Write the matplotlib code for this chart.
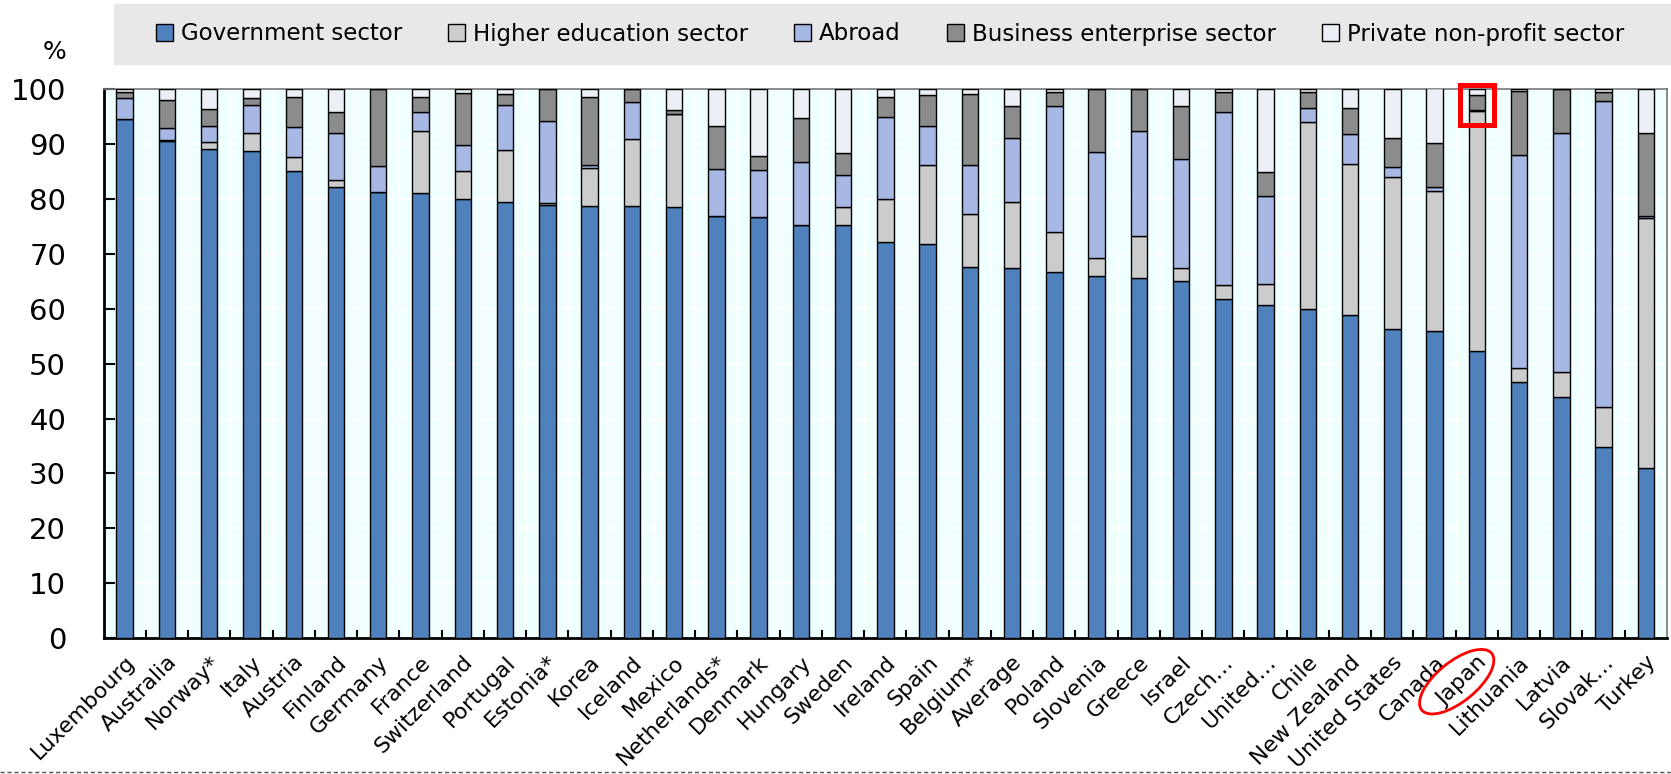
import numpy as np
import matplotlib
matplotlib.use("Agg")
import matplotlib.pyplot as plt
from matplotlib.patches import Rectangle, Ellipse, Patch
from matplotlib.lines import Line2D

countries = ["Luxembourg", "Australia", "Norway*", "Italy", "Austria", "Finland",
             "Germany", "France", "Switzerland", "Portugal", "Estonia*", "Korea",
             "Iceland", "Mexico", "Netherlands*", "Denmark", "Hungary", "Sweden",
             "Ireland", "Spain", "Belgium*", "Average", "Poland", "Slovenia",
             "Greece", "Israel", "Czech\u2026", "United\u2026", "Chile", "New Zealand",
             "United States", "Canada", "Japan", "Lithuania", "Latvia",
             "Slovak\u2026", "Turkey"]

government = [94.6, 90.6, 89.1, 88.7, 85.2, 82.2, 81.3, 81.2, 80.1, 79.5, 78.9, 78.8,
              78.8, 78.5, 77.0, 76.8, 75.2, 75.2, 72.1, 71.9, 67.7, 67.5, 66.8, 66.0,
              65.6, 65.1, 61.8, 60.7, 60.0, 58.9, 56.4, 56.0, 52.4, 46.6, 43.9, 34.8, 31.0]
higher_edu = [0.0, 0.2, 1.3, 3.3, 2.5, 1.3, 0.0, 11.2, 5.1, 9.5, 0.4, 6.8,
              12.1, 17.0, 0.0, 0.0, 0.0, 3.3, 7.9, 14.3, 9.6, 12.0, 7.2, 3.2,
              7.7, 2.3, 2.5, 3.9, 34.0, 27.5, 27.7, 25.4, 43.7, 2.7, 4.6, 7.3, 45.6]
abroad = [3.9, 2.1, 3.0, 5.2, 5.5, 8.5, 4.8, 3.4, 4.6, 8.2, 15.0, 0.7,
          6.8, 0.0, 8.4, 8.5, 11.5, 5.9, 14.9, 7.1, 8.9, 11.7, 23.0, 19.3,
          19.1, 19.9, 31.5, 16.0, 2.6, 5.5, 1.8, 0.9, 0.1, 38.8, 43.6, 55.8, 0.4]
business = [1.1, 5.2, 3.1, 1.3, 5.4, 3.8, 13.9, 2.9, 9.6, 1.9, 5.7, 12.4,
            2.3, 0.8, 7.9, 2.6, 8.0, 4.0, 3.8, 5.7, 13.0, 5.8, 2.6, 11.5,
            7.6, 9.6, 3.7, 4.4, 2.9, 4.7, 5.3, 8.0, 2.7, 11.6, 7.9, 1.6, 15.1]
private_np = [0.4, 1.9, 3.5, 1.5, 1.4, 4.2, 0.0, 1.3, 0.6, 0.9, 0.0, 1.3,
              0.0, 3.7, 6.7, 12.1, 5.3, 11.6, 1.3, 1.0, 0.8, 3.0, 0.4, 0.0,
              0.0, 3.1, 0.5, 15.0, 0.5, 3.4, 8.8, 9.9, 1.2, 0.3, 0.0, 0.5, 7.9]

series = [("Government sector", government, "#4F81BD"),
          ("Higher education sector", higher_edu, "#CCCCCC"),
          ("Abroad", abroad, "#A6B8E3"),
          ("Business enterprise sector", business, "#8C8C8C"),
          ("Private non-profit sector", private_np, "#EDEFF7")]

W, H = 1671, 774
fig = plt.figure(figsize=(W / 100, H / 100), dpi=100)
ax = fig.add_axes([103.6 / W, 1 - 638 / H, (1667 - 103.6) / W, (638 - 89.4) / H])
ax.set_facecolor("#F0FFFF")

x = np.arange(len(countries))
bottom = np.zeros(len(countries))
for name, vals, col in series:
    vals = np.array(vals)
    ax.bar(x, vals, width=0.39, bottom=bottom, color=col, edgecolor="black",
           linewidth=1, zorder=3)
    bottom += vals

ax.set_xlim(-0.5, len(countries) - 0.5)
ax.set_ylim(0, 100)
ax.set_yticks(np.arange(0, 101, 10))
ax.set_xticks(x)
ax.set_xticks(x[:-1] + 0.5, minor=True)
ax.set_xticklabels(countries, rotation=45, ha="right", rotation_mode="anchor",
                   fontsize=15.8)
ax.tick_params(axis="x", which="major", length=0, pad=10)
ax.tick_params(axis="x", which="minor", direction="in", length=6, width=1.5,
               color="black")
ax.tick_params(axis="y", direction="in", length=8, width=1.5, labelsize=21, pad=27)
ax.grid(True, axis="y", color="white", lw=1.2, zorder=0)
ax.grid(True, axis="x", which="minor", color="white", lw=1.2, zorder=0)
ax.set_axisbelow(True)
for s in ["left", "bottom"]:
    ax.spines[s].set_linewidth(2)
    ax.spines[s].set_color("black")
for s in ["top", "right"]:
    ax.spines[s].set_linewidth(1.2)
    ax.spines[s].set_color("#777777")

fig.text(55 / W, 1 - 52 / H, "%", fontsize=18, ha="center", va="center")

# legend strip
fig.add_artist(Rectangle((114 / W, 1 - 64 / H), 1 - 114 / W, 60 / H,
                         transform=fig.transFigure, color="#E8E8E8", zorder=0))
handles = [Patch(facecolor=c, edgecolor="black", lw=1) for _, _, c in series]
fig.legend(handles, [n for n, _, _ in series], loc="center",
           bbox_to_anchor=(890 / W, 1 - 34 / H), ncol=5, frameon=False,
           fontsize=16.5, handlelength=0.75, handleheight=0.7,
           handletextpad=0.35, columnspacing=2.0)

# highlights around Japan
ax.add_patch(Rectangle((32 - 0.41, 93.5), 0.82, 7.3, fill=False, edgecolor="red",
                       lw=3.6, clip_on=False, zorder=5))
fig.add_artist(Ellipse((1456.7 / 100, (H - 681.7) / 100), 0.9, 0.4, angle=39,
                       transform=fig.dpi_scale_trans, fill=False,
                       edgecolor="red", lw=2))

fig.add_artist(Line2D([0, 1], [1 - 772 / H] * 2, transform=fig.transFigure,
                      color="#555555", lw=1, ls=(0, (3, 2))))

fig.savefig("out.png", dpi=100)
